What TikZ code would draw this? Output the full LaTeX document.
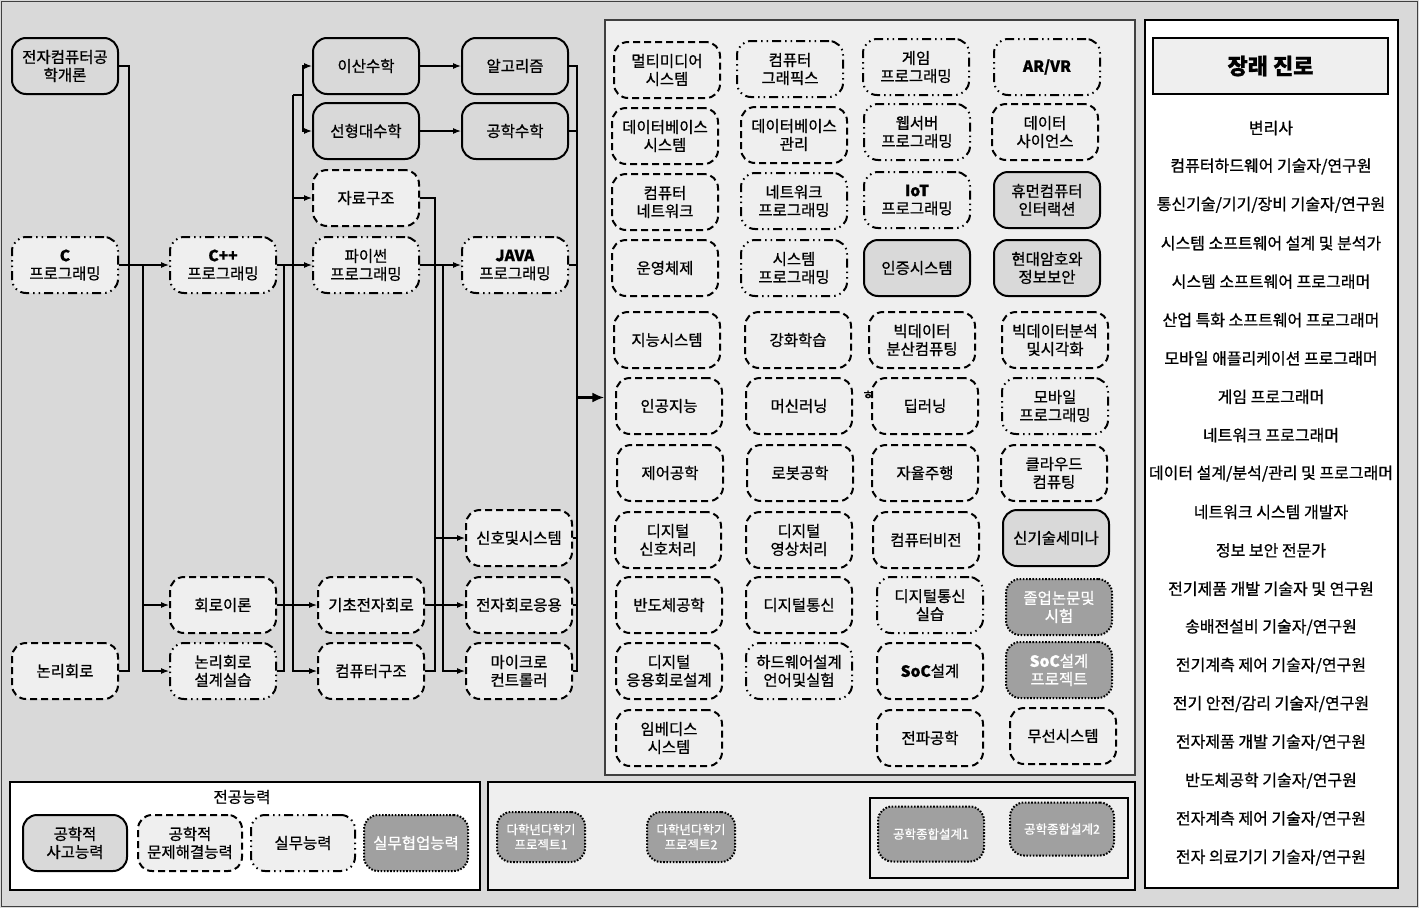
\documentclass[tikz,border=0pt]{standalone}
\usepackage{fontspec}
\setmainfont{Noto Sans CJK KR}[RawFeature={embolden=0.8}]
\usetikzlibrary{arrows.meta}
\definecolor{bgc}{HTML}{D9D9D9}
\definecolor{lightc}{HTML}{EFEFEF}
\definecolor{solidc}{HTML}{D9D9D9}
\definecolor{darkc}{HTML}{A0A0A0}
\definecolor{framec}{HTML}{404040}
\newcommand{\nf}{\fontsize{15.5}{18}\selectfont}
\newcommand{\lf}{\fontsize{16}{18}\selectfont}
\newcommand{\sfn}{\fontsize{12.5}{15}\selectfont}
\tikzset{
 base/.style={rounded corners=14pt, minimum width=106pt, minimum height=56pt, align=center, inner sep=1pt, line width=2pt, font=\nf, text=black},
 solidbox/.style={base, draw=black, fill=solidc},
 dashbox/.style={base, draw=black, fill=lightc, dash pattern=on 7pt off 4pt},
 ddbox/.style={base, draw=black, fill=lightc, dash pattern=on 9pt off 4pt on 1.5pt off 4pt on 1.5pt off 4pt},
 dotbox/.style={base, draw=black, fill=darkc, text=white, dash pattern=on 1.6pt off 1.6pt},
 ln/.style={line width=1.1pt, draw=black},
 arr/.style={line width=1.1pt, draw=black, -{Latex[length=8pt,width=6pt]}},
 bigarr/.style={line width=3pt, draw=black, -{Latex[length=12pt,width=10pt]}},
 panel/.style={draw=black, line width=1.2pt, inner sep=0pt},
 listitem/.style={font=\lf, text=black, inner sep=0pt},
}
\begin{document}
\begin{tikzpicture}[x=1pt,y=-1pt]
\useasboundingbox (0,0) rectangle (1419,908);
\fill[bgc] (0,0) rectangle (1419,908);
\draw[framec, line width=1pt] (1.5,1.5) rectangle (1417.5,906);

% big box
\node[panel, draw=framec, fill=lightc, minimum width=530pt, minimum height=755pt] (bigbox) at (870,397.5) {};
% legend panels
\node[panel, fill=white, minimum width=470pt, minimum height=108pt] (leg1) at (245,836) {};
\node[panel, fill=lightc, minimum width=647pt, minimum height=108pt] (leg2) at (811.5,836) {};
\node[panel, fill=lightc, minimum width=258pt, minimum height=80pt] (leg3) at (999,838) {};
% right panel
\node[panel, fill=white, minimum width=253pt, minimum height=868pt] (career) at (1271.5,454) {};
\node[panel, fill=lightc, minimum width=235pt, minimum height=56pt, font=\fontsize{22}{24}\selectfont\bfseries] (ctitle) at (1270.5,66) {장래 진로};

% ---- left curriculum nodes
\node[solidbox] (intro) at (65,66) {전자컴퓨터공\\학개론};
\node[ddbox] (cprog) at (65,265) {\textbf{C}\\프로그래밍};
\node[dashbox] (logic) at (65,671) {논리회로};
\node[ddbox] (cpp) at (223,265) {\textbf{C++}\\프로그래밍};
\node[dashbox] (circ) at (223,605) {회로이론};
\node[ddbox] (lcd) at (223,671) {논리회로\\설계실습};
\node[solidbox] (disc) at (366,66) {이산수학};
\node[solidbox] (lin) at (366,131) {선형대수학};
\node[dashbox] (ds) at (366,198) {자료구조};
\node[ddbox] (py) at (366,265) {파이썬\\프로그래밍};
\node[dashbox] (basic) at (371,605) {기초전자회로};
\node[dashbox] (arch) at (371,671) {컴퓨터구조};
\node[solidbox] (algo) at (515,66) {알고리즘};
\node[solidbox] (emath) at (515,131) {공학수학};
\node[ddbox] (java) at (515,265) {\textbf{JAVA}\\프로그래밍};
\node[dashbox] (sig) at (519,538) {신호및시스템};
\node[dashbox] (elec) at (519,605) {전자회로응용};
\node[dashbox] (mcu) at (519,671) {마이크로\\컨트롤러};

% ---- connectors
\coordinate (b1t) at (129,66);
\coordinate (b1b) at (129,671);
\draw[ln] (intro.east) -- (b1t) -- (b1b) -- (logic.east);
\draw[arr] (cprog.east) -- (cpp.west);
\coordinate (b2t) at (143,265);
\draw[arr] (b2t) |- (circ.west);
\draw[arr] (b2t) |- (lcd.west);
\draw[arr] (cpp.east) -- (py.west);
\coordinate (b3t) at (284,265);
\draw[ln] (b3t) |- (lcd.east);
\draw[arr] (circ.east) -- (basic.west);
\coordinate (b4t) at (293,95);
\coordinate (b4m) at (303,95);
\draw[ln] (b4t) -- (b4m);
\draw[arr] (b4m) |- (disc.west);
\draw[arr] (b4m) |- (lin.west);
\draw[arr] (b4t) |- (arch.west);
\draw[arr] (b4t |- ds.west) -- (ds.west);
\draw[arr] (disc.east) -- (algo.west);
\draw[arr] (lin.east) -- (emath.west);
\coordinate (b5) at (435,198);
\draw[ln] (ds.east) -- (b5) |- (arch.east);
\draw[arr] (b5 |- sig.west) -- (sig.west);
\draw[arr] (py.east) -- (java.west);
\coordinate (b6) at (443,265);
\draw[arr] (b6) |- (mcu.west);
\draw[arr] (basic.east) -- (elec.west);
\coordinate (b7t) at (577,66);
\coordinate (b7b) at (577,671);
\draw[ln] (algo.east) -- (b7t) -- (b7b) -- (mcu.east);
\draw[ln] (emath.east) -- (emath.east -| b7t);
\draw[ln] (java.east) -- (java.east -| b7t);
\draw[ln] (sig.east) -- (sig.east -| b7t);
\draw[ln] (elec.east) -- (elec.east -| b7t);
\draw[bigarr] (b7t |- bigbox.west) -- (bigbox.west);

% ---- big box nodes rows 1-4
\node[dashbox] (mm) at (667,70) {멀티미디어\\시스템};
\node[ddbox] (cg) at (790,69) {컴퓨터\\그래픽스};
\node[ddbox] (gp) at (916,67) {게임\\프로그래밍};
\node[ddbox] (arvr) at (1047,67) {\textbf{AR/VR}};
\node[dashbox] (dbs) at (665,136) {데이터베이스\\시스템};
\node[dashbox] (dbm) at (794,135) {데이터베이스\\관리};
\node[ddbox] (web) at (917,132) {웹서버\\프로그래밍};
\node[dashbox] (dsci) at (1045,132) {데이터\\사이언스};
\node[dashbox] (cn) at (665,202) {컴퓨터\\네트워크};
\node[ddbox] (np) at (794,201) {네트워크\\프로그래밍};
\node[ddbox] (iot) at (917,200) {\textbf{IoT}\\프로그래밍};
\node[solidbox] (hci) at (1047,200) {휴먼컴퓨터\\인터랙션};
\node[dashbox] (os) at (665,268) {운영체제};
\node[ddbox] (sp) at (794,268) {시스템\\프로그래밍};
\node[solidbox] (auth) at (917,268) {인증시스템};
\node[solidbox] (crypto) at (1047,268) {현대암호와\\정보보안};
% rows 5-11
\node[dashbox] (is) at (667,340) {지능시스템};
\node[dashbox] (rl) at (798,340) {강화학습};
\node[dashbox] (bdc) at (922,340) {빅데이터\\분산컴퓨팅};
\node[dashbox] (bda) at (1055,340) {빅데이터분석\\및시각화};
\node[dashbox] (ai) at (669,406) {인공지능};
\node[dashbox] (ml) at (799,406) {머신러닝};
\node[dashbox] (dl) at (925,406) {딥러닝};
\node[ddbox] (mob) at (1055,406) {모바일\\프로그래밍};
\node[dashbox] (ctrl) at (670,473) {제어공학};
\node[dashbox] (robot) at (800,473) {로봇공학};
\node[dashbox] (autod) at (925,473) {자율주행};
\node[dashbox] (cloud) at (1054,473) {클라우드\\컴퓨팅};
\node[dashbox] (dsp) at (668,540) {디지털\\신호처리};
\node[dashbox] (dip) at (799,540) {디지털\\영상처리};
\node[dashbox] (cv) at (926,540) {컴퓨터비전};
\node[solidbox] (sem) at (1056,538) {신기술세미나};
\node[dashbox] (semi) at (669,605) {반도체공학};
\node[dashbox] (dcom) at (799,605) {디지털통신};
\node[ddbox] (dcl) at (930,605) {디지털통신\\실습};
\node[dotbox] (grad) at (1059,607) {졸업논문및\\시험};
\node[dashbox] (dacd) at (669,671) {디지털\\응용회로설계};
\node[ddbox] (hdl) at (799,671) {하드웨어설계\\언어및실험};
\node[dashbox] (soc) at (930,671) {\textbf{SoC}설계};
\node[dotbox] (socp) at (1059,670) {\textbf{SoC}설계\\프로젝트};
\node[dashbox] (emb) at (669,738) {임베디스\\시스템};
\node[dashbox] (rf) at (930,738) {전파공학};
\node[dashbox] (wl) at (1063,736) {무선시스템};
\node[font=\fontsize{13}{14}\selectfont, inner sep=0pt] (stray) at (868,395) {ㅎ};

% ---- legend 1
\node[font=\nf, inner sep=0pt] (legt) at (242,797) {전공능력};
\node[solidbox, minimum width=104pt] (lg1) at (75,843) {공학적\\사고능력};
\node[dashbox, minimum width=104pt] (lg2) at (190,843) {공학적\\문제해결능력};
\node[ddbox, minimum width=104pt] (lg3) at (303,843) {실무능력};
\node[dotbox, minimum width=104pt] (lg4) at (416,843) {실무협업능력};
% ---- legend 2
\node[dotbox, font=\sfn, minimum width=88pt, minimum height=50pt] (pj1) at (541,837) {다학년다학기\\프로젝트1};
\node[dotbox, font=\sfn, minimum width=88pt, minimum height=50pt] (pj2) at (691,837) {다학년다학기\\프로젝트2};
\node[dotbox, font=\sfn, minimum width=106pt, minimum height=55pt] (cd1) at (931,834) {공학종합설계1};
\node[dotbox, font=\sfn, minimum width=104pt, minimum height=53pt] (cd2) at (1062,829) {공학종합설계2};

% ---- careers
\node[listitem] (r1) at (1271,128) {변리사};
\node[listitem] (r2) at (1271,166.4) {컴퓨터하드웨어 기술자/연구원};
\node[listitem] (r3) at (1271,204.8) {통신기술/기기/장비 기술자/연구원};
\node[listitem] (r4) at (1271,243.2) {시스템 소프트웨어 설계 및 분석가};
\node[listitem] (r5) at (1271,281.6) {시스템 소프트웨어 프로그래머};
\node[listitem] (r6) at (1271,320) {산업 특화 소프트웨어 프로그래머};
\node[listitem] (r7) at (1271,358.4) {모바일 애플리케이션 프로그래머};
\node[listitem] (r8) at (1271,396.8) {게임 프로그래머};
\node[listitem] (r9) at (1271,435.2) {네트워크 프로그래머};
\node[listitem] (r10) at (1271,473.6) {데이터 설계/분석/관리 및 프로그래머};
\node[listitem] (r11) at (1271,512) {네트워크 시스템 개발자};
\node[listitem] (r12) at (1271,550.4) {정보 보안 전문가};
\node[listitem] (r13) at (1271,588.8) {전기제품 개발 기술자 및 연구원};
\node[listitem] (r14) at (1271,627.2) {송배전설비 기술자/연구원};
\node[listitem] (r15) at (1271,665.6) {전기계측 제어 기술자/연구원};
\node[listitem] (r16) at (1271,704) {전기 안전/감리 기술자/연구원};
\node[listitem] (r17) at (1271,742.4) {전자제품 개발 기술자/연구원};
\node[listitem] (r18) at (1271,780.8) {반도체공학 기술자/연구원};
\node[listitem] (r19) at (1271,819.2) {전자계측 제어 기술자/연구원};
\node[listitem] (r20) at (1271,857.6) {전자 의료기기 기술자/연구원};
\end{tikzpicture}
\end{document}
